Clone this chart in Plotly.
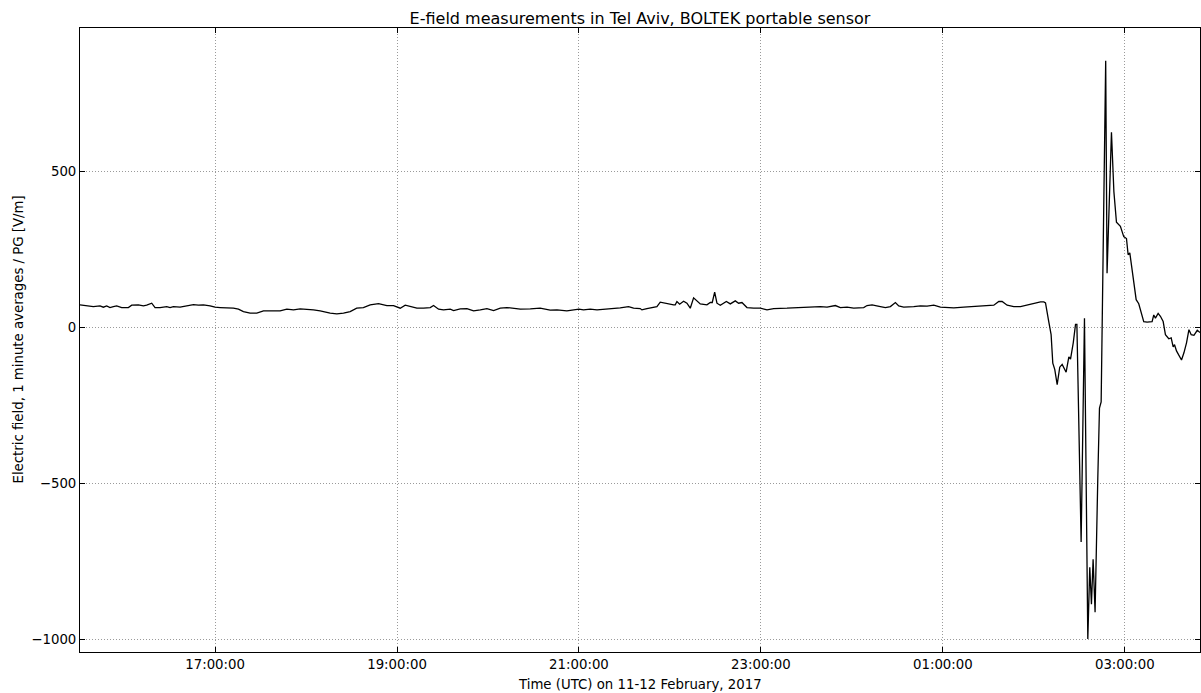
import pandas as pd
import plotly.graph_objects as go

# minutes after 2017-02-11 17:00 UTC
minutes = [
    -89.1, -84.7, -80.3, -75.9, -73.7, -71.5, -69.3, -67.1, -64.9, -61.6,
    -57.2, -55.0, -50.6, -47.3, -45.1, -41.8, -39.6, -36.3, -31.9, -29.7,
    -27.5, -23.1, -18.7, -14.3, -11.0, -7.7, -3.3, 0.0, 3.3, 12.1,
    15.4, 18.7, 23.1, 27.5, 31.9, 42.9, 47.3, 51.7, 56.1, 60.5,
    64.9, 69.3, 75.9, 80.3, 84.7, 89.1, 93.4, 97.8, 102.3, 107.8,
    113.3, 117.7, 122.1, 125.4, 127.6, 129.8, 133.1, 137.5, 141.9, 144.1,
    147.4, 150.7, 155.1, 157.3, 161.7, 166.1, 170.5, 174.9, 179.3, 183.7,
    188.1, 192.5, 196.9, 201.3, 207.9, 214.4, 221.0, 225.5, 232.0, 240.0,
    243.0, 247.4, 251.9, 258.4, 262.8, 267.2, 272.7, 276.0, 280.4, 281.5,
    284.8, 289.2, 291.4, 293.6, 298.0, 302.4, 303.5, 304.6, 306.4, 309.0,
    311.2, 313.4, 315.6, 317.8, 320.0, 324.4, 326.6, 327.9, 329.5, 331.0,
    333.2, 337.2, 339.8, 343.1, 345.3, 347.5, 350.8, 355.2, 359.6, 364.0,
    368.4, 377.2, 388.2, 394.8, 399.2, 403.6, 406.9, 409.1, 412.4, 416.8,
    421.2, 427.8, 430.0, 433.3, 438.8, 442.1, 445.4, 448.7, 450.9, 454.2,
    460.8, 465.2, 469.6, 474.0, 478.4, 482.8, 487.2, 493.8, 500.4, 504.8,
    513.6, 516.9, 519.1, 522.4, 526.8, 531.2, 540.0, 544.4, 546.6, 547.7,
    549.9, 551.4, 552.5, 553.8, 555.4, 557.1, 558.7, 559.8, 561.3, 563.1,
    564.2, 566.0, 567.5, 568.4, 571.2, 573.4, 575.6, 576.9, 578.0, 579.1,
    580.4, 582.2, 583.3, 584.4, 585.9, 587.4, 588.3, 591.2, 592.8, 594.5,
    597.1, 599.3, 601.1, 602.2, 603.3, 604.4, 605.9, 607.5, 609.2, 611.0,
    612.5, 614.7, 618.0, 619.1, 620.2, 622.0, 623.5, 625.3, 626.8, 629.0,
    630.6, 631.9, 632.8, 634.1, 635.7, 637.4, 639.0, 640.7, 642.3, 643.8,
    645.6, 647.8, 649.6,
]

efield = [
    71.5, 69.3, 66.1, 68.3, 64.0, 68.3, 62.9, 66.1, 68.3, 62.9,
    62.9, 70.4, 71.5, 68.3, 70.4, 76.8, 62.9, 62.9, 66.1, 62.9,
    66.1, 64.0, 69.3, 72.5, 70.4, 71.5, 68.3, 64.0, 62.9, 60.8,
    57.6, 50.1, 44.8, 44.8, 52.2, 52.2, 57.6, 55.4, 58.7, 57.6,
    55.4, 52.2, 44.8, 42.6, 44.8, 50.1, 60.8, 62.9, 71.5, 75.7,
    69.3, 69.3, 60.8, 70.4, 68.3, 66.1, 60.8, 60.8, 62.9, 69.3,
    57.6, 55.4, 57.6, 53.3, 58.7, 59.7, 52.2, 55.4, 59.7, 53.3,
    60.8, 62.9, 60.8, 57.6, 58.7, 60.8, 54.4, 55.4, 52.2, 57.6,
    55.4, 57.6, 55.4, 57.6, 60.8, 61.9, 66.1, 60.8, 59.7, 55.4,
    59.7, 62.9, 66.1, 80.0, 74.7, 71.5, 71.5, 82.2, 73.6, 83.3,
    76.8, 60.8, 94.0, 85.4, 74.7, 71.5, 79.0, 79.0, 112.0, 76.8,
    70.4, 82.2, 74.7, 84.3, 76.8, 79.0, 62.9, 60.8, 60.8, 55.4,
    59.7, 60.8, 62.9, 64.0, 66.1, 64.0, 68.3, 69.3, 62.9, 64.0,
    60.8, 62.9, 69.3, 71.5, 66.1, 62.9, 66.1, 79.0, 68.3, 64.0,
    66.1, 68.3, 67.2, 70.4, 64.0, 62.9, 61.9, 64.0, 66.1, 68.3,
    70.4, 82.2, 82.2, 70.4, 66.1, 66.1, 77.0, 81.0, 81.0, 78.0,
    16.0, -24.0, -115.0, -135.0, -184.0, -128.0, -119.0, -128.0, -144.0, -95.0,
    -102.0, -50.0, 9.0, 9.0, -688.0, 29.0, -998.0, -769.0, -887.0, -743.0,
    -913.0, -481.0, -259.0, -239.0, 330.0, 853.0, 173.0, 624.0, 434.0, 336.0,
    323.0, 290.0, 284.0, 232.0, 238.0, 199.0, 146.0, 88.0, 75.0, 48.0,
    18.0, 16.0, 18.0, 39.0, 29.0, 44.0, 35.0, 18.0, -24.0, -37.0,
    -34.0, -63.0, -56.0, -76.0, -92.0, -105.0, -82.0, -50.0, -8.0, -24.0,
    -26.0, -10.0, -17.0,
]

x_tick_times = ["2017-02-11 17:00", "2017-02-11 19:00", "2017-02-11 21:00",
                "2017-02-11 23:00", "2017-02-12 01:00", "2017-02-12 03:00"]
x_tick_labels = ["17:00:00", "19:00:00", "21:00:00", "23:00:00", "01:00:00", "03:00:00"]
y_tick_vals = [-1000, -500, 0, 500]
y_tick_labels = ["\u22121000", "\u2212500", "0", "500"]

base = pd.Timestamp("2017-02-11 17:00")
times = base + pd.to_timedelta(minutes, unit="min")

fig = go.Figure()
fig.add_trace(go.Scatter(x=times, y=efield, mode="lines",
                         line=dict(color="black", width=1.3), hoverinfo="x+y"))

axis_common = dict(
    showline=True, linecolor="black", linewidth=1, mirror="ticks",
    ticks="inside", ticklen=5, tickwidth=1, tickcolor="black",
    showgrid=True, gridcolor="#9a9a9a", gridwidth=1, griddash="1px,2px",
    zeroline=False, tickfont=dict(size=13.3, color="black"),
)

fig.update_layout(
    width=1201, height=693,
    margin=dict(l=80, r=1, t=28, b=41),
    plot_bgcolor="white", paper_bgcolor="white",
    font=dict(family="DejaVu Sans", size=13.3, color="black"),
    showlegend=False,
    title=dict(text="E-field measurements in Tel Aviv, BOLTEK portable sensor",
               font=dict(size=16, color="black"),
               x=0.5, xref="paper", xanchor="center",
               y=1 - 18 / 693, yref="container", yanchor="middle"),
    xaxis=dict(axis_common, range=[times[0], times[-1]],
               tickvals=pd.to_datetime(x_tick_times), ticktext=x_tick_labels),
    yaxis=dict(axis_common, range=[-1040, 958],
               tickvals=y_tick_vals, ticktext=y_tick_labels),
    annotations=[
        dict(text="Time (UTC) on 11-12 February, 2017", xref="paper", yref="paper",
             x=0.5, y=-(684 - 652) / 624, xanchor="center", yanchor="middle",
             showarrow=False, font=dict(size=13.3, color="black")),
        dict(text="Electric field, 1 minute averages / PG [V/m]", xref="paper", yref="paper",
             x=-(80 - 17.5) / 1120, y=0.5, xanchor="center", yanchor="middle",
             textangle=-90, showarrow=False, font=dict(size=13.3, color="black")),
    ],
)

fig.write_html(
    "out.html",
    config={"displayModeBar": False},
    post_script="document.body.style.margin='0px';document.body.style.overflow='hidden';",
)
